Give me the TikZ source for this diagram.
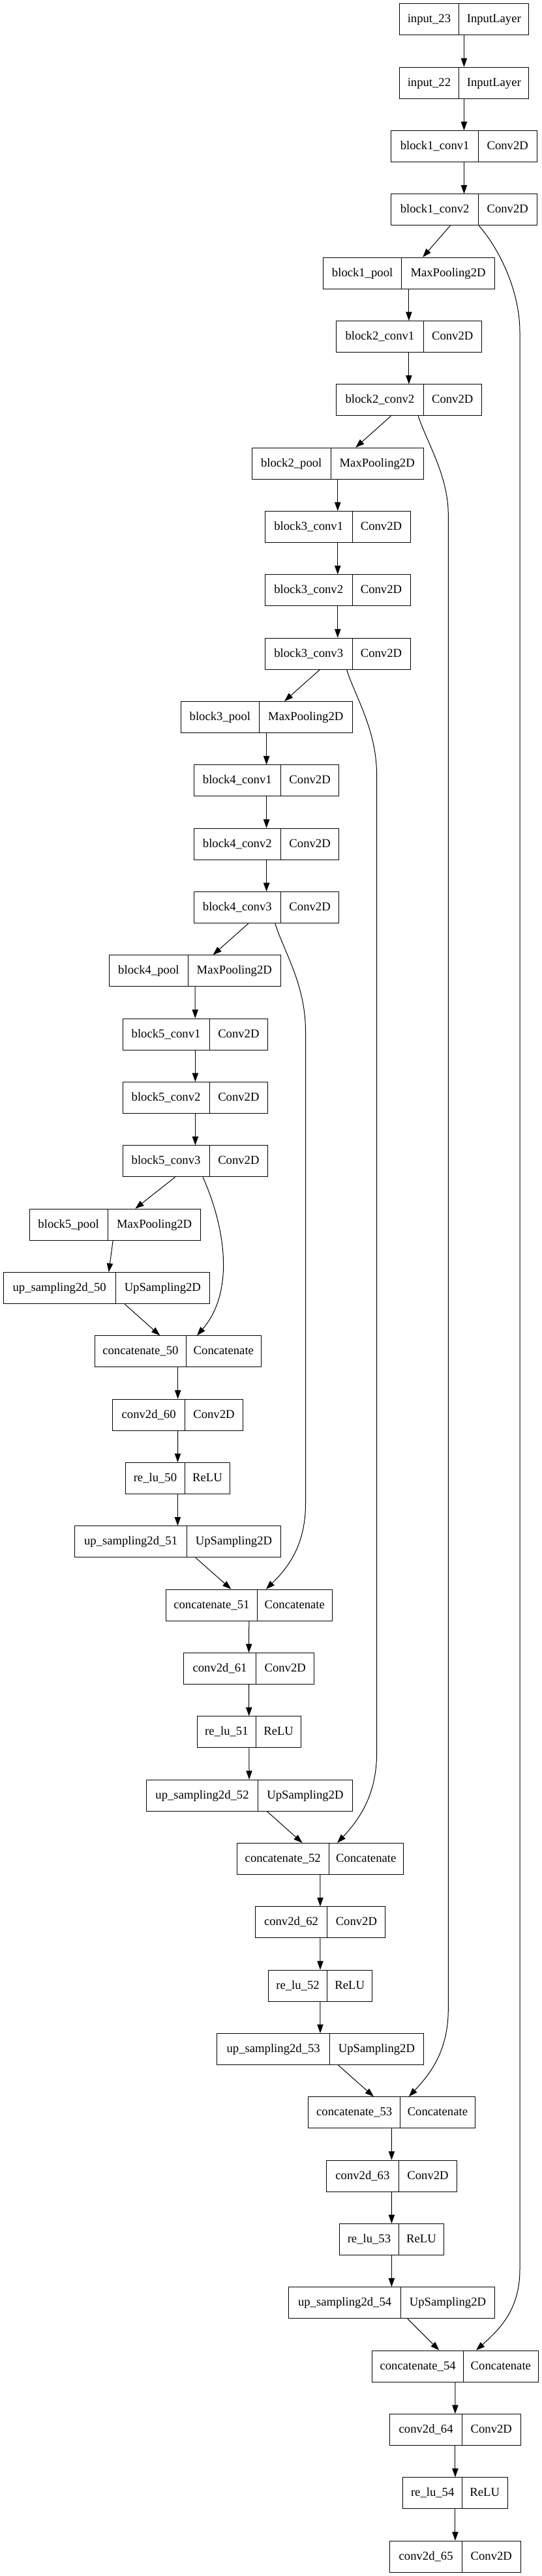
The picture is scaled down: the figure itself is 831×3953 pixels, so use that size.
\documentclass[tikz,border=0pt]{standalone}
\usepackage{fontspec}
\setmainfont{Liberation Serif}
\usetikzlibrary{arrows.meta,calc}
\newcommand\lyr[7]{%
  \pgfmathsetmacro\yc{29.9+97.33*#2}%
  \node[lbox, minimum width={(#5-#3)*0.75pt}] (#1) at ({(#3+#5)/2},\yc) {};
  \node[ltxt] (#1-n) at ({(#3+#4)/2},\yc) {#6};
  \node[ltxt] (#1-c) at ({(#4+#5)/2},\yc) {#7};
  \draw[lline] (#4,{\yc-24}) -- (#4,{\yc+24});
}
\begin{document}
\begin{tikzpicture}[x=0.75pt,y=-0.75pt,
  lbox/.style={draw=black,line width=0.75pt,rectangle,minimum height=36pt,inner sep=0pt},
  ltxt/.style={inner sep=0pt,font=\fontsize{14}{16}\selectfont,text height=10pt,text depth=2.5pt},
  lline/.style={draw=black,line width=0.75pt},
  arr/.style={draw=black,line width=0.75pt,-{Triangle[length=10pt,width=7pt]}}]
\fill[white] (0,0) rectangle (831,3953);
\useasboundingbox (0,0) rectangle (831,3953);

\lyr{in23}{0}{612.1}{703.8}{810.8}{input\_23}{InputLayer}
\lyr{in22}{1}{612.1}{703.8}{810.8}{input\_22}{InputLayer}
\lyr{b1c1}{2}{599.9}{733.4}{823.0}{block1\_conv1}{Conv2D}
\lyr{b1c2}{3}{599.9}{733.4}{823.0}{block1\_conv2}{Conv2D}
\lyr{b1p}{4}{495.5}{615.8}{758.3}{block1\_pool}{MaxPooling2D}
\lyr{b2c1}{5}{515.6}{649.2}{738.2}{block2\_conv1}{Conv2D}
\lyr{b2c2}{6}{515.6}{649.2}{738.2}{block2\_conv2}{Conv2D}
\lyr{b2p}{7}{386.3}{507.2}{649.2}{block2\_pool}{MaxPooling2D}
\lyr{b3c1}{8}{406.5}{540.0}{629.0}{block3\_conv1}{Conv2D}
\lyr{b3c2}{9}{406.5}{540.0}{629.0}{block3\_conv2}{Conv2D}
\lyr{b3c3}{10}{406.5}{540.0}{629.0}{block3\_conv3}{Conv2D}
\lyr{b3p}{11}{277.2}{397.5}{540.0}{block3\_pool}{MaxPooling2D}
\lyr{b4c1}{12}{297.3}{430.3}{519.9}{block4\_conv1}{Conv2D}
\lyr{b4c2}{13}{297.3}{430.3}{519.9}{block4\_conv2}{Conv2D}
\lyr{b4c3}{14}{297.3}{430.3}{519.9}{block4\_conv3}{Conv2D}
\lyr{b4p}{15}{167.5}{288.3}{430.3}{block4\_pool}{MaxPooling2D}
\lyr{b5c1}{16}{188.1}{321.1}{410.7}{block5\_conv1}{Conv2D}
\lyr{b5c2}{17}{188.1}{321.1}{410.7}{block5\_conv2}{Conv2D}
\lyr{b5c3}{18}{188.1}{321.1}{410.7}{block5\_conv3}{Conv2D}
\lyr{b5p}{19}{45.0}{165.3}{307.9}{block5\_pool}{MaxPooling2D}
\lyr{up50}{20}{5.3}{177.0}{321.7}{up\_sampling2d\_50}{UpSampling2D}
\lyr{cat50}{21}{145.2}{285.6}{400.1}{concatenate\_50}{Concatenate}
\lyr{c60}{22}{172.8}{283.5}{372.5}{conv2d\_60}{Conv2D}
\lyr{r50}{23}{192.4}{283.5}{352.4}{re\_lu\_50}{ReLU}
\lyr{up51}{24}{114.5}{286.7}{430.3}{up\_sampling2d\_51}{UpSampling2D}
\lyr{cat51}{25}{254.4}{394.3}{509.3}{concatenate\_51}{Concatenate}
\lyr{c61}{26}{281.4}{392.7}{481.7}{conv2d\_61}{Conv2D}
\lyr{r51}{27}{302.1}{392.7}{461.6}{re\_lu\_51}{ReLU}
\lyr{up52}{28}{224.2}{395.9}{540.0}{up\_sampling2d\_52}{UpSampling2D}
\lyr{cat52}{29}{363.5}{504.0}{618.4}{concatenate\_52}{Concatenate}
\lyr{c62}{30}{391.1}{501.9}{590.9}{conv2d\_62}{Conv2D}
\lyr{r52}{31}{411.2}{501.9}{570.7}{re\_lu\_52}{ReLU}
\lyr{up53}{32}{332.8}{505.6}{649.2}{up\_sampling2d\_53}{UpSampling2D}
\lyr{cat53}{33}{472.7}{613.7}{728.1}{concatenate\_53}{Concatenate}
\lyr{c63}{34}{500.3}{611.5}{700.6}{conv2d\_63}{Conv2D}
\lyr{r53}{35}{520.4}{611.5}{680.4}{re\_lu\_53}{ReLU}
\lyr{up54}{36}{442.5}{614.7}{758.3}{up\_sampling2d\_54}{UpSampling2D}
\lyr{cat54}{37}{570.7}{710.6}{825.1}{concatenate\_54}{Concatenate}
\lyr{c64}{38}{597.8}{708.5}{798.1}{conv2d\_64}{Conv2D}
\lyr{r54}{39}{617.9}{708.5}{778.0}{re\_lu\_54}{ReLU}
\lyr{c65}{40}{597.8}{708.5}{798.1}{conv2d\_65}{Conv2D}

\foreach \a/\b in {in23/in22,in22/b1c1,b1c1/b1c2,b1c2/b1p,b1p/b2c1,b2c1/b2c2,b2c2/b2p,
  b2p/b3c1,b3c1/b3c2,b3c2/b3c3,b3c3/b3p,b3p/b4c1,b4c1/b4c2,b4c2/b4c3,b4c3/b4p,b4p/b5c1,
  b5c1/b5c2,b5c2/b5c3,b5c3/b5p,b5p/up50,up50/cat50,cat50/c60,c60/r50,r50/up51,up51/cat51,
  cat51/c61,c61/r51,r51/up52,up52/cat52,cat52/c62,c62/r52,r52/up53,up53/cat53,cat53/c63,
  c63/r53,r53/up54,up54/cat54,cat54/c64,c64/r54,r54/c65}
  \draw[arr] (\a) -- (\b);

% skip connections
\draw[arr] ($(b1c2.south)+(22.8,0)$) .. controls (760,375) and (797,440) .. (797,510)
  -- (797,3483) .. controls (797,3545) and (765,3575) .. ($(cat54.north)+(32.1,0)$);
\draw[arr] ($(b2c2.south)+(14.3,0)$) .. controls (655,680) and (687.3,730) .. (687.3,790)
  -- (687.3,3083) .. controls (687.3,3150) and (657,3185) .. ($(cat53.north)+(26.5,0)$);
\draw[arr] ($(b3c3.south)+(13.8,0)$) .. controls (545,1070) and (577.6,1120) .. (577.6,1190)
  -- (577.6,2690) .. controls (577.6,2757) and (548,2795) .. ($(cat52.north)+(26.2,0)$);
\draw[arr] ($(b4c3.south)+(13.2,0)$) .. controls (435,1460) and (468.5,1510) .. (468.5,1583)
  -- (468.5,2307) .. controls (468.5,2373) and (440,2407) .. ($(cat51.north)+(26.1,0)$);
\draw[arr] ($(b5c3.south)+(11.7,0)$) .. controls (348,1890) and (358,1985) .. ($(cat50.north)+(29.4,0)$);
\end{tikzpicture}
\end{document}
